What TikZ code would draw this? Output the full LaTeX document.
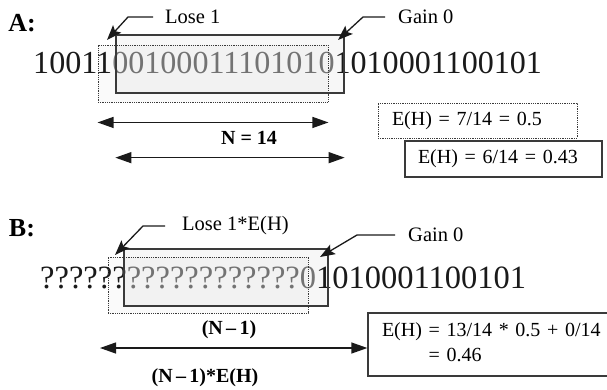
\documentclass[tikz,border=0pt]{standalone}
\usepackage{fontspec}
\setmainfont{Liberation Serif}
\usetikzlibrary{
  arrows.meta,
  positioning
}
\definecolor{winInk}{HTML}{1A1A1A}
\definecolor{winGray}{HTML}{7A7A7A}
\definecolor{winEdge}{HTML}{3A3A3A}
\tikzset{
  partLabel/.style={font=\bfseries\fontsize{26}{30}\selectfont, inner sep=0pt},
  bitRow/.style={anchor=base west, inner sep=0pt, text=winInk},
  winSolid/.style={
    draw=winEdge,
    line width=1.3pt,
    fill=black,
    fill opacity=0.03,
    inner sep=0pt
  },
  winDotted/.style={
    draw=winEdge,
    line width=0.9pt,
    dash pattern=on 0.9pt off 0.9pt,
    fill=black,
    fill opacity=0.02,
    inner sep=0pt
  },
  calloutLabel/.style={font=\fontsize{20.5}{24}\selectfont, inner sep=0pt, anchor=west},
  calloutArrow/.style={-{Stealth[length=15pt,width=11pt,inset=3pt]}, line width=1.3pt, winInk},
  spanArrow/.style={
    {Triangle[length=16pt,width=11pt]}-{Triangle[length=16pt,width=11pt]},
    line width=1.3pt,
    winInk
  },
  sizeLabel/.style={font=\bfseries\fontsize{20}{24}\selectfont, inner sep=0pt},
  entropyBox/.style={
    draw=winEdge,
    line width=1.3pt,
    font=\fontsize{20}{25}\selectfont,
    align=left,
    inner sep=0pt
  }
}

\begin{document}
\begin{tikzpicture}[x=1pt,y=-1pt]
  \clip (0,0) rectangle (607,389);

  % part A: full window
  \node[partLabel] (partA) at (22,23) {A:};
  \node[bitRow, font=\fontsize{32.1}{36}\selectfont] (bitsA) at (33,73)
    {10011\textcolor{winGray}{00100011101010}1010001100101};
  \node[winDotted, minimum width=230, minimum height=57] (dotA) at (213,73.5) {};
  \node[winSolid, minimum width=228, minimum height=58] (winA) at (230,64) {};

  \node[calloutLabel] (loseA) at (165,17) {Lose 1};
  \coordinate (loseTipA) at (107,40);
  \draw[calloutArrow] ([xshift=-12pt]loseA.west) -- ++(-25,0) -- (loseTipA);
  \node[calloutLabel] (gainA) at (398,17) {Gain 0};
  \coordinate (gainTipA) at (338,40);
  \draw[calloutArrow] ([xshift=-13pt]gainA.west) -- ++(-22,0) -- (gainTipA);

  \draw[spanArrow] ([yshift=-20pt]dotA.south west) -- ([yshift=-20pt]dotA.south east);
  \node[sizeLabel] (sizeA) at (249,138) {N = 14};
  \draw[spanArrow] ([yshift=-64pt]winA.south west) -- ([yshift=-64pt]winA.south east);

  \node[entropyBox, dash pattern=on 0.9pt off 0.9pt, line width=0.9pt,
    minimum width=199, minimum height=35, text width=171] (ehOld) at (477.5,120.5)
    {E(H) = 7/14 = 0.5};
  \node[entropyBox, minimum width=197, minimum height=36, text width=171]
    (ehNew) at (503.5,159) {E(H) = 6/14 = 0.43};

  % part B: window after one unknown symbol
  \node[partLabel] (partB) at (22,228) {B:};
  \node[bitRow, font=\fontsize{32.5}{36}\selectfont] (bitsB) at (40,288)
    {??????\textcolor{winGray}{????????????0}1010001100101};
  \node[winDotted, minimum width=200, minimum height=56] (dotB) at (208,285) {};
  \node[winSolid, minimum width=204, minimum height=57] (winB) at (226,277.5) {};

  \node[calloutLabel] (loseB) at (182,226) {Lose 1*E(H)};
  \coordinate (loseTipB) at (115,255);
  \draw[calloutArrow] ([xshift=-17pt]loseB.west) -- ++(-22,0) -- (loseTipB);
  \node[calloutLabel] (gainB) at (408,235) {Gain 0};
  \coordinate (gainTipB) at (320,257);
  \draw[calloutArrow] ([xshift=-13pt]gainB.west) -- ++(-38,0) -- (gainTipB);

  \node[sizeLabel] (sizeB) at (229,330) {(N\,–\,1)};
  \node[entropyBox, minimum width=258, minimum height=63, text width=230]
    (ehB) at (497,344.5)
    {E(H) = 13/14 * 0.5 + 0/14\\\phantom{E(H)} = 0.46};
  \coordinate (spanB) at (100,348);
  \draw[spanArrow] (spanB) -- (spanB -| ehB.west);
  \node[sizeLabel] (sizeEB) at (205,378) {(N\,–\,1)*E(H)};
\end{tikzpicture}
\end{document}
